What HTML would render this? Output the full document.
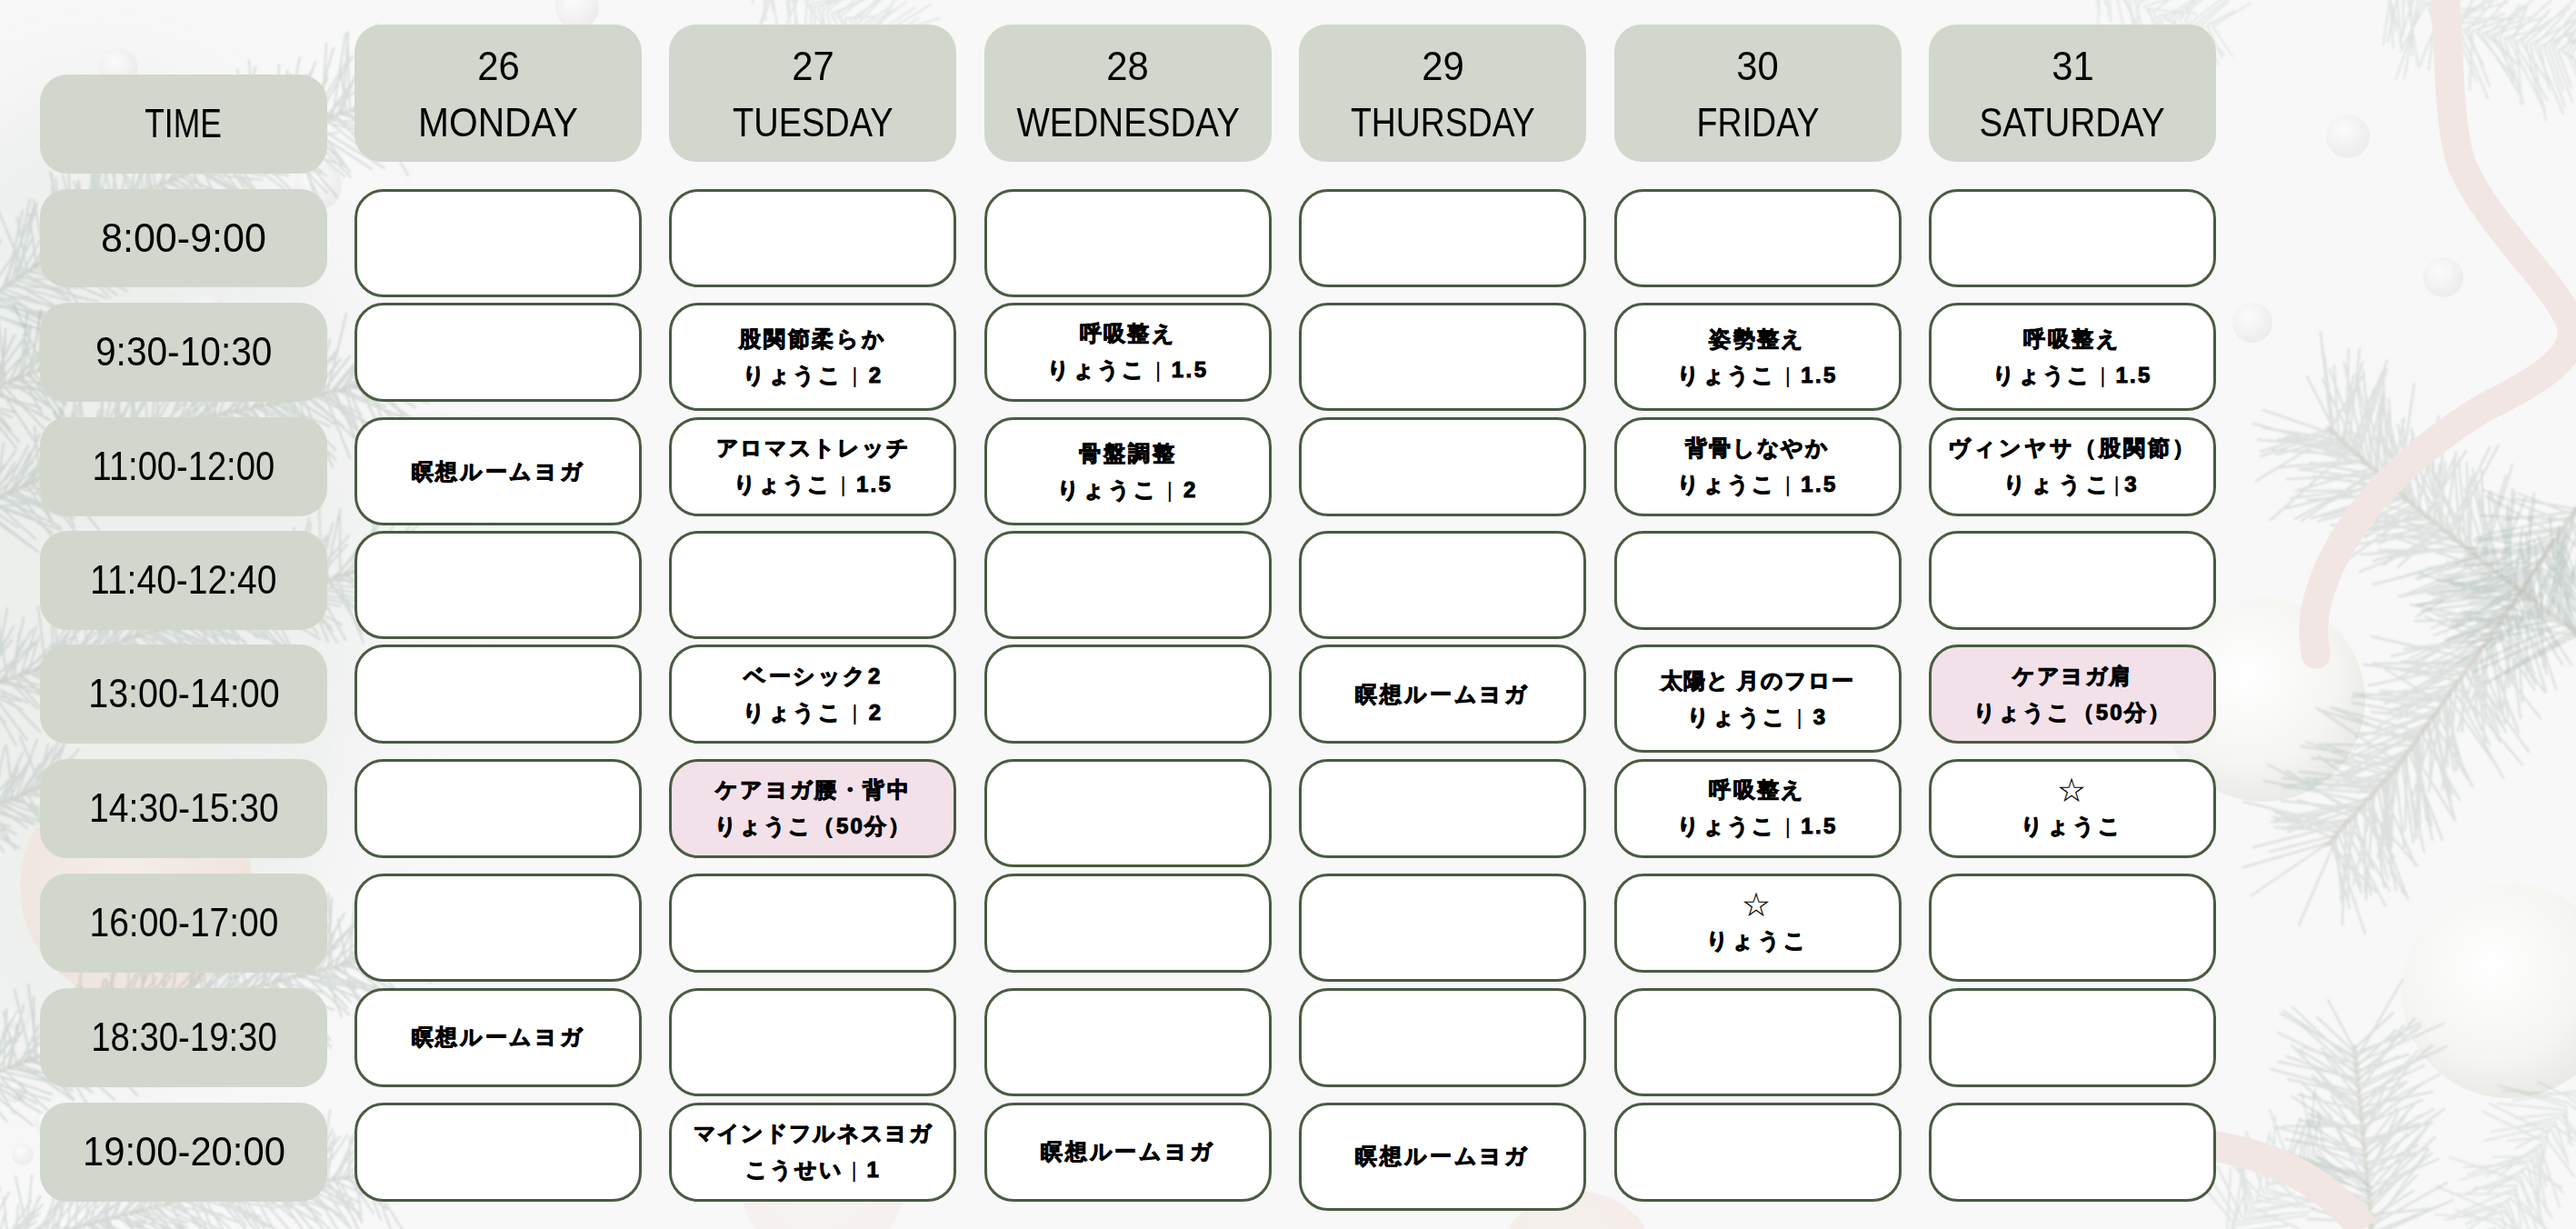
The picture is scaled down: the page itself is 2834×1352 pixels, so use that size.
<!DOCTYPE html>
<html lang="ja"><head><meta charset="utf-8"><title>schedule</title>
<style>
*{margin:0;padding:0;box-sizing:border-box}
html,body{width:2834px;height:1352px;overflow:hidden}
body{position:relative;background:#f6f7f6;font-family:"Liberation Sans",sans-serif;color:#000}
.bg{position:absolute;left:0;top:0;width:2834px;height:1352px}
.g{position:absolute;background:#d2d7cd;border-radius:30px}
.lt{position:absolute;left:0;width:100%;text-align:center;font-size:44px;line-height:44px;white-space:nowrap}
.lt span{display:inline-block}
.c{position:absolute;width:316px;background:#fff;border:3px solid #4a5b41;border-radius:32px;display:flex;flex-direction:column;align-items:center;justify-content:center}
.c.p{background:#f3e1e9}
.j{font-size:24px;font-weight:bold;letter-spacing:3px;line-height:40px;white-space:nowrap;-webkit-text-stroke:1px #000}
.j b{font-weight:normal;-webkit-text-stroke:0}
.j.st{font-weight:normal;-webkit-text-stroke:0;font-size:32px}
</style></head><body>
<svg class="bg" width="2834" height="1352" viewBox="0 0 2834 1352"><defs>
<radialGradient id="orn" cx="42%" cy="38%" r="62%"><stop offset="0" stop-color="#ffffff"/><stop offset="0.7" stop-color="#f5f5f2"/><stop offset="1" stop-color="#eaebe7"/></radialGradient>
<radialGradient id="pch" cx="45%" cy="40%" r="60%"><stop offset="0" stop-color="#f6ece6"/><stop offset="1" stop-color="#efdfd6"/></radialGradient>
<radialGradient id="prl" cx="40%" cy="35%" r="60%"><stop offset="0" stop-color="#ffffff"/><stop offset="1" stop-color="#e8e5e7"/></radialGradient>
<filter id="bl"><feGaussianBlur stdDeviation="0.8"/></filter>
<filter id="bl3" x="-50%" y="-50%" width="200%" height="200%"><feGaussianBlur stdDeviation="60"/></filter>
</defs><rect width="2834" height="1352" fill="#f8f8f8"/><ellipse cx="110" cy="640" rx="300" ry="560" fill="#e3e8e4" opacity="0.5" filter="url(#bl3)"/><circle cx="150" cy="975" r="128" fill="url(#pch)" opacity="0.7"/><circle cx="2760" cy="1090" r="118" fill="url(#orn)"/><circle cx="2490" cy="770" r="112" fill="url(#orn)"/><circle cx="905" cy="1300" r="90" fill="url(#pch)" opacity="0.3"/><circle cx="1735" cy="1400" r="90" fill="url(#pch)" opacity="0.5"/><circle cx="635" cy="8" r="24" fill="url(#prl)" opacity="0.6"/><circle cx="2583" cy="150" r="24" fill="url(#prl)" opacity="0.6"/><circle cx="2688" cy="305" r="22" fill="url(#prl)" opacity="0.6"/><circle cx="2478" cy="355" r="22" fill="url(#prl)" opacity="0.6"/><circle cx="2840" cy="30" r="20" fill="url(#prl)" opacity="0.6"/><circle cx="130" cy="75" r="22" fill="url(#prl)" opacity="0.6"/><circle cx="350" cy="205" r="26" fill="url(#prl)" opacity="0.6"/><circle cx="230" cy="345" r="20" fill="url(#prl)" opacity="0.6"/><circle cx="20" cy="1120" r="13" fill="url(#prl)" opacity="0.6"/><circle cx="45" cy="1160" r="12" fill="url(#prl)" opacity="0.6"/><circle cx="15" cy="1200" r="13" fill="url(#prl)" opacity="0.6"/><circle cx="50" cy="1235" r="12" fill="url(#prl)" opacity="0.6"/><circle cx="25" cy="1270" r="12" fill="url(#prl)" opacity="0.6"/><circle cx="110" cy="1345" r="13" fill="url(#prl)" opacity="0.6"/><circle cx="150" cy="1340" r="12" fill="url(#prl)" opacity="0.6"/><circle cx="190" cy="1348" r="13" fill="url(#prl)" opacity="0.6"/><g fill="none" stroke-linecap="round" filter="url(#bl)"><path d="M-30 340L-18 249M-30 340L43 362M-27 338L1 264M-27 338L32 362M-23 335L23 269M-23 335L69 346M-20 333L-22 276M-20 333L32 326M-17 331L-5 281M-17 331L68 353M-13 329L-6 257M-13 329L43 356M-10 326L-25 240M-10 326L45 351M-7 324L-3 240M-7 324L56 350M-3 322L-14 273M-3 322L66 339M0 319L-24 272M0 319L52 354M3 317L37 230M3 317L60 339M7 315L25 231M7 315L77 317M10 313L35 263M10 313L77 331M13 310L33 219M13 310L92 354M17 308L41 223M17 308L108 332M20 306L38 223M20 306L73 308M23 304L52 250M23 304L89 328M27 301L-2 231M27 301L76 329M30 299L19 239M30 299L121 312M33 297L82 221M33 297L84 317M37 294L77 249M37 294L117 328M40 292L32 235M40 292L97 311M43 290L57 213M43 290L100 308M47 288L74 223M47 288L111 270M50 285L37 220M50 285L97 349M53 283L48 227M53 283L138 250M57 281L61 230M57 281L132 316M60 278L85 231M60 278L140 320M63 276L57 191M63 276L128 324M67 274L57 206M67 274L121 327M70 272L61 196M70 272L147 288M73 269L55 189M73 269L145 294M77 267L92 215M77 267L150 291M80 265L75 183M80 265L165 298M83 262L86 199M83 262L138 282M87 260L69 193M87 260L152 306M90 258L116 176M90 258L132 311M93 256L87 200M93 256L172 296M97 253L101 191M97 253L159 252M100 251L122 176M100 251L186 270M103 249L81 200M103 249L155 252M107 246L100 183M107 246L159 266M110 244L98 158M110 244L162 238M113 242L106 164M113 242L189 296M117 240L97 171M117 240L186 223M120 237L101 178M120 237L191 257M123 235L128 168M123 235L161 274M127 233L113 179M127 233L213 263M130 231L148 143M130 231L178 282M133 228L114 148M133 228L197 281M137 226L184 145M137 226L197 287M140 224L177 143M140 224L210 221M143 221L153 150M143 221L196 222M147 219L122 159M147 219L199 242M150 217L163 130M150 217L204 264M153 215L120 165M153 215L234 234M157 212L151 125M157 212L221 231M160 210L167 151M160 210L195 275M164 208L166 134M164 208L207 236M167 207L154 140M167 207L216 260M171 205L160 132M171 205L244 261M175 204L199 154M175 204L249 255M178 202L189 144M178 202L216 244M182 201L167 144M182 201L243 222M186 199L210 150M186 199L248 237M189 197L214 128M189 197L253 223M193 196L196 137M193 196L249 244M197 194L194 106M197 194L277 226M201 193L186 130M201 193L268 259M204 191L186 133M204 191L249 222M208 189L199 104M208 189L288 198M212 188L255 120M212 188L235 238M215 186L242 119M215 186L261 213M219 185L248 116M219 185L267 215M223 183L257 102M223 183L243 234M226 182L282 137M226 182L282 226M230 180L245 104M230 180L317 193M234 178L276 107M234 178L289 194M237 177L237 87M237 177L292 247M241 175L247 99M241 175L304 234M245 174L298 109M245 174L285 229M248 172L253 91M248 172L291 226M252 171L240 106M252 171L316 186M256 169L267 109M256 169L290 225M259 167L269 94M259 167L322 215M263 166L281 73M263 166L346 175M267 164L289 117M267 164L321 173M271 163L318 105M271 163L326 214M274 161L261 76M274 161L357 174M278 159L323 124M278 159L347 182M282 158L274 66M282 158L351 191M285 156L307 80M285 156L359 193M289 155L301 95M289 155L372 146M293 153L337 82M293 153L380 183M296 152L349 106M296 152L342 192M300 150L342 79M300 150L360 212M304 149L307 71M304 149L352 169M308 147L316 78M308 147L354 189M312 146L330 63M312 146L371 217M315 145L314 90M315 145L350 215M319 144L347 68M319 144L379 194M323 142L319 81M323 142L350 228M327 141L360 88M327 141L373 171M331 140L335 86M331 140L386 195M335 138L360 85M335 138L409 186M339 137L384 63M339 137L378 182M343 136L367 53M343 136L423 185M346 135L388 62M346 135L385 189M350 133L392 100M350 133L420 149M354 132L359 47M354 132L434 135M358 131L407 64M358 131L402 166M362 129L398 74M362 129L433 154M366 128L380 38M366 128L415 168M370 127L410 44M370 127L414 176M374 125L400 63M374 125L445 150M377 124L383 37M377 124L452 164M381 123L374 72M381 123L442 168M385 122L382 35M385 122L469 139M389 120L431 48M389 120L445 175M393 119L450 64M393 119L475 137M397 118L426 57M397 118L460 168M401 116L429 39M401 116L438 174M405 115L414 27M405 115L449 193M408 114L406 40M408 114L449 170M412 113L431 31M412 113L443 161M416 111L451 58M416 111L459 158" stroke="#8ea39b" stroke-opacity="0.3" stroke-width="2.2"/><path d="M-30 340L160 210L300 150L420 110" stroke="#b8a896" stroke-opacity="0.18" stroke-width="4"/><path d="M-30 560L-5 489M-30 560L32 554M-26 558L17 496M-26 558L35 602M-23 557L4 512M-23 557L42 607M-19 555L21 510M-19 555L20 580M-15 553L36 509M-15 553L67 583M-11 552L16 509M-11 552L37 571M-8 550L-17 498M-8 550L39 593M-4 548L4 487M-4 548L83 562M-0 547L-9 486M-0 547L67 580M3 545L31 490M3 545L57 586M7 543L55 501M7 543L67 567M11 542L33 498M11 542L82 570M14 540L47 489M14 540L75 566M18 538L44 477M18 538L71 609M22 537L64 492M22 537L104 564M26 535L70 469M26 535L70 545M29 533L89 467M29 533L55 571M33 532L76 461M33 532L94 564M37 530L54 476M37 530L59 577M40 528L74 481M40 528L86 589M44 527L38 469M44 527L116 553M48 525L93 479M48 525L135 544M51 523L72 439M51 523L82 579M55 522L83 446M55 522L109 551M59 520L61 474M59 520L109 583M63 518L66 449M63 518L100 551M66 517L90 433M66 517L122 563M70 515L114 452M70 515L131 532M74 513L98 468M74 513L150 514M77 512L83 425M77 512L144 520M81 510L90 436M81 510L140 522M85 508L59 453M85 508L149 517M89 507L133 455M89 507L146 539M92 505L109 451M92 505L159 554M96 503L135 434M96 503L162 538M100 502L85 427M100 502L153 528M103 500L113 442M103 500L173 500M107 498L127 420M107 498L170 533M111 497L154 423M111 497L184 507M114 495L111 415M114 495L165 521M118 493L134 433M118 493L163 521M122 492L156 410M122 492L201 515M126 490L128 429M126 490L167 520M129 488L132 434M129 488L177 523M133 487L160 442M133 487L177 517M137 485L172 409M137 485L207 514M140 483L152 416M140 483L188 531M144 482L150 408M144 482L208 505M148 480L140 394M148 480L208 527M151 478L144 415M151 478L222 513M155 477L142 431M155 477L203 472M159 475L186 433M159 475L225 534M163 473L155 386M163 473L249 465M166 472L175 393M166 472L220 497M170 470L205 406M170 470L184 548M174 469L172 411M174 469L203 539M178 468L225 421M178 468L214 539M182 468L226 396M182 468L202 517M186 467L207 409M186 467L253 495M190 466L255 407M190 466L233 513M194 465L254 423M194 465L259 495M198 464L216 409M198 464L238 509M202 464L224 416M202 464L255 491M206 463L248 387M206 463L273 495M210 462L249 399M210 462L255 481M214 461L281 402M214 461L262 504M218 460L259 423M218 460L282 496M222 460L253 377M222 460L261 509M226 459L257 388M226 459L272 510M230 458L247 385M230 458L266 507M233 457L267 379M233 457L286 529M237 457L229 374M237 457L286 486M241 456L256 411M241 456L292 469M245 455L297 421M245 455L308 515M249 454L301 388M249 454L266 521M253 453L289 375M253 453L297 521M257 453L313 387M257 453L306 473M261 452L283 381M261 452L323 479M265 451L290 409M265 451L295 515M269 450L292 384M269 450L306 500M273 449L260 370M273 449L335 514M277 449L328 386M277 449L322 514M281 448L315 382M281 448L324 470M285 447L335 373M285 447L332 468M289 446L290 393M289 446L320 530M293 445L340 387M293 445L358 485M297 445L326 371M297 445L349 483M301 444L338 381M301 444L363 469M305 443L336 380M305 443L369 505M309 442L306 358M309 442L343 475M313 441L369 392M313 441L349 477M317 441L306 389M317 441L369 495M321 440L328 376M321 440L345 480M325 439L340 366M325 439L371 468M329 438L370 386M329 438L346 504M333 437L354 361M333 437L366 514M337 437L354 387M337 437L378 469M341 436L375 395M341 436L406 497M345 435L363 373M345 435L424 475M349 434L359 361M349 434L397 455M353 433L385 392M353 433L409 470M357 433L352 384M357 433L385 504M360 432L381 345M360 432L392 473M364 431L400 388M364 431L393 470M368 430L423 361M368 430L394 489M372 430L417 405M372 430L450 462M376 429L421 355M376 429L424 447M380 428L412 371M380 428L399 494M384 427L421 382M384 427L401 470M388 426L427 392M388 426L472 443M392 426L428 390M392 426L447 472M396 425L422 366M396 425L433 504M400 424L415 377M400 424L470 472M404 423L453 378M404 423L449 425M408 422L469 377M408 422L426 482M412 422L438 350M412 422L457 448M416 421L461 356M416 421L451 468" stroke="#8ea39b" stroke-opacity="0.32" stroke-width="2.2"/><path d="M-30 560L170 470L420 420" stroke="#b8a896" stroke-opacity="0.18" stroke-width="4"/><path d="M-30 760L13 704M-30 760L6 795M-26 759L11 696M-26 759L22 771M-22 757L15 689M-22 757L25 781M-19 756L39 706M-19 756L18 820M-15 755L-12 703M-15 755L30 814M-11 754L2 699M-11 754L30 773M-7 752L8 669M-7 752L44 805M-3 751L39 708M-3 751L60 760M1 750L36 692M1 750L60 769M4 749L26 705M4 749L71 766M8 747L-3 676M8 747L41 780M12 746L26 679M12 746L89 764M16 745L21 696M16 745L62 800M20 743L73 703M20 743L73 785M23 742L40 689M23 742L63 778M27 741L58 708M27 741L96 749M31 740L43 700M31 740L71 759M35 738L75 716M35 738L99 757M39 737L76 695M39 737L82 771M43 736L77 683M43 736L85 768M46 735L103 677M46 735L100 780M50 733L42 667M50 733L100 750M54 732L76 696M54 732L125 753M58 731L57 656M58 731L120 749M62 729L84 674M62 729L103 748M65 728L59 675M65 728L110 740M69 727L103 655M69 727L112 774M73 726L114 689M73 726L98 764M77 724L127 663M77 724L132 738M81 723L110 683M81 723L133 787M85 722L114 670M85 722L143 773M88 721L77 676M88 721L134 766M92 719L129 680M92 719L134 718M96 718L90 646M96 718L124 789M100 717L135 648M100 717L157 764M104 715L152 646M104 715L171 748M107 714L113 673M107 714L186 737M111 713L165 656M111 713L165 764M115 712L129 652M115 712L141 753M119 710L140 666M119 710L189 743M123 709L151 649M123 709L174 744M127 708L149 664M127 708L163 754M130 707L104 632M130 707L173 726M134 705L191 646M134 705L197 729M138 704L161 670M138 704L181 739M142 703L168 636M142 703L196 752M146 701L211 652M146 701L180 763M149 700L163 635M149 700L221 713M153 699L155 630M153 699L210 747M157 698L150 621M157 698L204 732M161 696L152 614M161 696L231 737M165 695L169 652M165 695L231 734M169 694L186 636M169 694L232 732M172 693L198 654M172 693L252 719M176 691L215 655M176 691L214 714M180 690L203 653M180 690L224 707M184 689L218 664M184 689L257 720M188 688L210 620M188 688L209 729M192 687L240 645M192 687L225 721M195 685L203 627M195 685L259 704M199 684L226 639M199 684L255 726M203 683L267 630M203 683L246 709M207 682L228 626M207 682L269 705M211 681L237 638M211 681L248 697M215 680L206 636M215 680L243 733M219 679L229 640M219 679L259 702M223 678L208 623M223 678L247 715M226 676L238 609M226 676L250 739M230 675L237 611M230 675L261 723M234 674L280 643M234 674L292 703M238 673L278 619M238 673L278 717M242 672L274 607M242 672L274 729M246 671L254 621M246 671L314 714M250 670L299 615M250 670L284 702M254 669L259 603M254 669L329 681M257 667L268 609M257 667L315 685M261 666L273 609M261 666L319 726M265 665L321 629M265 665L309 710M269 664L280 589M269 664L305 691M273 663L322 601M273 663L345 691M277 662L320 617M277 662L324 721M281 661L275 595M281 661L352 703M285 660L298 594M285 660L327 676M288 658L285 595M288 658L328 673M292 657L348 612M292 657L331 733M296 656L344 607M296 656L346 663M300 655L334 592M300 655L364 689M304 654L317 587M304 654L362 671M308 653L304 593M308 653L376 687M312 652L351 605M312 652L374 667M315 650L321 611M315 650L350 698M319 649L359 590M319 649L397 668M323 648L340 570M323 648L390 661M327 647L346 603M327 647L366 694M331 646L342 575M331 646L371 707M335 645L384 589M335 645L361 706M339 644L323 580M339 644L407 662M343 643L382 599M343 643L407 655M346 641L360 589M346 641L380 704M350 640L366 575M350 640L417 651M354 639L351 557M354 639L409 639M358 638L373 566M358 638L391 670M362 637L348 592M362 637L399 696M366 636L411 592M366 636L449 648M370 635L404 590M370 635L400 707M374 634L374 560M374 634L444 678M377 632L417 601M377 632L432 658M381 631L405 596M381 631L445 678M385 630L421 603M385 630L431 643M389 629L432 590M389 629L432 644M393 628L418 572M393 628L442 655M397 627L412 576M397 627L427 658M401 626L444 590M401 626L437 683M405 625L435 574M405 625L433 659M408 623L470 569M408 623L428 663M412 622L410 544M412 622L467 654M416 621L466 560M416 621L464 651" stroke="#8ea39b" stroke-opacity="0.3" stroke-width="2.2"/><path d="M-30 760L180 690L420 620" stroke="#b8a896" stroke-opacity="0.18" stroke-width="4"/><path d="M-30 1190L21 1136M-30 1190L7 1233M-26 1189L-18 1130M-26 1189L36 1238M-22 1187L19 1112M-22 1187L55 1210M-19 1186L-20 1116M-19 1186L45 1224M-15 1184L11 1143M-15 1184L40 1214M-11 1183L-27 1112M-11 1183L16 1225M-8 1181L6 1130M-8 1181L57 1204M-4 1180L25 1133M-4 1180L30 1216M0 1178L-13 1122M0 1178L49 1189M4 1177L7 1110M4 1177L52 1221M8 1175L26 1106M8 1175L63 1183M11 1174L19 1127M11 1174L79 1195M15 1172L81 1115M15 1172L80 1200M19 1171L4 1114M19 1171L82 1191M22 1170L43 1128M22 1170L81 1210M26 1168L66 1122M26 1168L78 1172M30 1167L66 1090M30 1167L101 1181M34 1165L16 1088M34 1165L98 1196M38 1164L37 1096M38 1164L81 1209M41 1162L31 1083M41 1162L102 1202M45 1161L90 1112M45 1161L93 1174M49 1159L81 1119M49 1159L115 1179M52 1158L82 1109M52 1158L100 1177M56 1156L85 1084M56 1156L109 1172M60 1155L73 1096M60 1155L96 1215M64 1154L99 1109M64 1154L126 1210M68 1152L130 1091M68 1152L145 1184M71 1151L119 1081M71 1151L94 1193M75 1149L70 1098M75 1149L115 1170M79 1148L109 1088M79 1148L158 1188M82 1146L125 1086M82 1146L135 1163M86 1145L89 1059M86 1145L130 1193M90 1143L118 1106M90 1143L164 1177M94 1142L115 1077M94 1142L151 1205M98 1140L141 1085M98 1140L151 1194M101 1139L90 1086M101 1139L165 1157M105 1138L125 1091M105 1138L161 1146M109 1136L100 1088M109 1136L137 1173M112 1135L128 1062M112 1135L152 1173M116 1133L125 1057M116 1133L191 1147M120 1132L149 1072M120 1132L171 1176M124 1130L117 1078M124 1130L197 1170M128 1129L172 1076M128 1129L201 1146M131 1127L153 1070M131 1127L186 1187M135 1126L168 1091M135 1126L218 1146M139 1124L166 1064M139 1124L190 1157M142 1123L141 1062M142 1123L172 1180M146 1121L198 1054M146 1121L227 1128M150 1120L195 1088M150 1120L191 1148M154 1119L162 1040M154 1119L216 1172M158 1118L155 1046M158 1118L230 1149M162 1117L188 1073M162 1117L201 1189M166 1116L205 1086M166 1116L237 1163M170 1115L215 1067M170 1115L240 1140M173 1114L163 1029M173 1114L234 1139M177 1113L184 1040M177 1113L222 1122M181 1112L220 1071M181 1112L258 1135M185 1111L198 1048M185 1111L239 1146M189 1110L235 1057M189 1110L221 1191M193 1109L250 1069M193 1109L234 1147M197 1108L234 1028M197 1108L269 1120M201 1107L230 1058M201 1107L278 1119M205 1106L218 1021M205 1106L279 1154M209 1105L268 1049M209 1105L269 1127M213 1104L251 1051M213 1104L296 1120M217 1103L255 1040M217 1103L236 1188M220 1102L254 1053M220 1102L264 1119M224 1101L215 1037M224 1101L289 1126M228 1100L220 1040M228 1100L280 1139M232 1099L271 1050M232 1099L281 1125M236 1098L243 1030M236 1098L287 1157M240 1097L293 1027M240 1097L264 1157M244 1096L287 1046M244 1096L285 1142M248 1095L296 1062M248 1095L307 1152M252 1094L255 1038M252 1094L294 1141M256 1093L267 1022M256 1093L286 1128M260 1092L293 1059M260 1092L307 1118M263 1091L256 1042M263 1091L298 1134M267 1090L305 1043M267 1090L314 1146M271 1089L260 1020M271 1089L314 1106M275 1088L325 1034M275 1088L323 1101M279 1087L305 1013M279 1087L305 1140M283 1086L346 1033M283 1086L324 1160M287 1084L312 1021M287 1084L321 1131M291 1083L305 1010M291 1083L367 1111M295 1082L319 999M295 1082L330 1143M299 1081L363 1020M299 1081L327 1118M303 1080L332 1042M303 1080L335 1153M307 1079L321 1019M307 1079L355 1092M310 1078L318 1017M310 1078L363 1144M314 1077L333 1008M314 1077L364 1153M318 1076L349 1029M318 1076L341 1147M322 1075L373 1040M322 1075L359 1108M326 1074L337 991M326 1074L392 1087M330 1073L361 1025M330 1073L395 1098M334 1072L392 1014M334 1072L384 1116M338 1071L393 1015M338 1071L421 1093M342 1070L379 1005M342 1070L413 1086M346 1069L357 1017M346 1069L382 1109M350 1068L363 1012M350 1068L386 1102M353 1067L370 1020M353 1067L411 1093M357 1066L420 1015M357 1066L376 1119M361 1065L365 988M361 1065L407 1108M365 1064L361 983M365 1064L414 1089M369 1063L400 995M369 1063L440 1114M373 1062L411 1028M373 1062L460 1075M377 1061L436 1021M377 1061L397 1107M381 1060L372 1011M381 1060L443 1095M385 1059L390 993M385 1059L438 1106M389 1058L398 1009M389 1058L466 1069M393 1057L430 1010M393 1057L458 1073M397 1056L406 992M397 1056L454 1076M400 1055L428 1015M400 1055L467 1077M404 1054L442 995M404 1054L475 1081M408 1053L450 1001M408 1053L437 1092M412 1052L448 986M412 1052L466 1075M416 1051L426 972M416 1051L463 1051" stroke="#8ea39b" stroke-opacity="0.33" stroke-width="2.2"/><path d="M-30 1190L150 1120L420 1050" stroke="#b8a896" stroke-opacity="0.18" stroke-width="4"/><path d="M-30 1380L10 1312M-30 1380L27 1418M-26 1379L-24 1338M-26 1379L13 1410M-22 1378L0 1308M-22 1378L18 1447M-18 1377L44 1335M-18 1377L38 1403M-14 1376L-26 1315M-14 1376L9 1423M-11 1375L40 1344M-11 1375L31 1434M-7 1374L6 1335M-7 1374L60 1396M-3 1373L36 1333M-3 1373L19 1417M1 1372L34 1321M1 1372L67 1400M5 1371L47 1325M5 1371L62 1404M9 1370L4 1317M9 1370L32 1415M13 1369L58 1340M13 1369L70 1401M17 1368L20 1325M17 1368L26 1407M21 1367L44 1316M21 1367L49 1424M25 1366L42 1319M25 1366L73 1372M28 1365L35 1293M28 1365L43 1404M32 1364L17 1294M32 1364L60 1413M36 1363L73 1309M36 1363L82 1384M40 1362L80 1306M40 1362L89 1395M44 1361L64 1306M44 1361L60 1407M48 1360L70 1310M48 1360L107 1380M52 1359L85 1317M52 1359L88 1409M56 1358L74 1280M56 1358L93 1397M60 1357L79 1299M60 1357L122 1383M64 1356L70 1298M64 1356L109 1393M67 1355L122 1296M67 1355L108 1412M71 1354L104 1302M71 1354L119 1388M75 1353L80 1273M75 1353L140 1386M79 1352L133 1306M79 1352L145 1385M83 1351L86 1308M83 1351L136 1382M87 1349L119 1297M87 1349L107 1402M91 1348L136 1319M91 1348L111 1385M95 1347L98 1295M95 1347L138 1372M99 1346L112 1303M99 1346L144 1372M103 1345L131 1306M103 1345L116 1389M106 1344L139 1293M106 1344L166 1382M110 1343L142 1310M110 1343L170 1384M114 1342L129 1288M114 1342L170 1381M118 1341L123 1289M118 1341L155 1403M122 1340L145 1296M122 1340L167 1346M126 1339L153 1269M126 1339L198 1368M130 1338L177 1286M130 1338L182 1384M134 1337L187 1282M134 1337L173 1358M138 1336L156 1273M138 1336L161 1380M142 1335L197 1287M142 1335L180 1355M145 1334L176 1297M145 1334L206 1350M149 1333L196 1297M149 1333L196 1357M153 1332L170 1264M153 1332L206 1345M157 1331L170 1284M157 1331L201 1370M161 1330L212 1281M161 1330L188 1381M165 1329L171 1254M165 1329L205 1369M169 1328L206 1272M169 1328L231 1374M173 1327L176 1268M173 1327L214 1370M177 1326L168 1286M177 1326L221 1349M181 1325L216 1279M181 1325L244 1336M184 1324L213 1277M184 1324L248 1356M188 1323L235 1283M188 1323L208 1370M192 1322L229 1253M192 1322L233 1358M196 1321L219 1255M196 1321L221 1352M200 1320L202 1259M200 1320L260 1344M204 1319L196 1264M204 1319L244 1342M208 1319L242 1295M208 1319L249 1388M212 1318L250 1273M212 1318L253 1351M216 1318L235 1278M216 1318L288 1339M220 1317L242 1263M220 1317L235 1358M224 1317L245 1243M224 1317L258 1374M228 1316L231 1263M228 1316L304 1329M232 1316L247 1266M232 1316L296 1350M236 1315L260 1260M236 1315L270 1352M240 1315L279 1274M240 1315L304 1353M244 1314L260 1257M244 1314L271 1349M248 1313L283 1280M248 1313L289 1363M252 1313L275 1280M252 1313L319 1329M256 1312L262 1271M256 1312L276 1348M260 1312L292 1269M260 1312L295 1369M264 1311L317 1276M264 1311L304 1372M268 1311L295 1276M268 1311L328 1319M272 1310L292 1275M272 1310L336 1327M276 1310L299 1268M276 1310L316 1377M280 1309L329 1248M280 1309L325 1361M284 1309L300 1267M284 1309L323 1340M288 1308L299 1251M288 1308L350 1345M292 1307L325 1257M292 1307L335 1319M296 1307L337 1273M296 1307L366 1332M300 1306L319 1271M300 1306L341 1364M304 1306L321 1255M304 1306L352 1362M308 1305L352 1257M308 1305L353 1337M312 1305L355 1284M312 1305L368 1357M316 1304L336 1255M316 1304L380 1340M320 1304L349 1242M320 1304L369 1333M324 1303L328 1241M324 1303L362 1364M328 1303L336 1224M328 1303L375 1325M332 1302L365 1272M332 1302L386 1351M336 1301L374 1250M336 1301L389 1325M340 1301L366 1242M340 1301L377 1362M344 1300L364 1257M344 1300L397 1336M348 1300L382 1249M348 1300L396 1323M352 1299L363 1221M352 1299L384 1348M356 1299L355 1228M356 1299L385 1327M360 1298L368 1247M360 1298L391 1343M364 1298L397 1257M364 1298L419 1321M368 1297L392 1247M368 1297L399 1363M372 1297L398 1225M372 1297L396 1341M376 1296L408 1244M376 1296L439 1311M380 1295L427 1245M380 1295L426 1330M384 1295L385 1251M384 1295L411 1335M388 1294L429 1247M388 1294L443 1309M392 1294L454 1252M392 1294L398 1345M396 1293L421 1237M396 1293L432 1322M400 1293L440 1269M400 1293L419 1342M404 1292L401 1244M404 1292L445 1356M408 1292L429 1217M408 1292L431 1356M412 1291L422 1222M412 1291L438 1322M416 1291L450 1221M416 1291L469 1295" stroke="#8ea39b" stroke-opacity="0.3" stroke-width="2.2"/><path d="M-30 1380L200 1320L420 1290" stroke="#b8a896" stroke-opacity="0.18" stroke-width="4"/><path d="M-40 440L-7 398M-40 440L18 454M-36 438L-23 390M-36 438L13 459M-32 437L-14 365M-32 437L1 473M-28 435L-24 387M-28 435L18 493M-25 434L-7 398M-25 434L21 486M-21 432L-4 374M-21 432L12 473M-17 431L29 369M-17 431L46 449M-13 429L16 369M-13 429L41 454M-9 428L34 382M-9 428L55 462M-5 426L-6 383M-5 426L38 427M-2 425L6 377M-2 425L38 485M2 423L6 362M2 423L49 472M6 422L-2 349M6 422L56 431M10 420L31 379M10 420L54 447M14 418L61 379M14 418L59 423M18 417L61 367M18 417L73 445M22 415L30 345M22 415L62 454M25 414L34 358M25 414L46 455M29 412L82 354M29 412L63 438M33 411L45 341M33 411L66 462M37 409L26 368M37 409L78 468M41 408L73 353M41 408L105 410M45 406L43 350M45 406L107 437M48 405L15 335M48 405L90 433M52 403L68 359M52 403L108 419M56 402L110 352M56 402L119 434" stroke="#8ea39b" stroke-opacity="0.35" stroke-width="2.2"/><path d="M-40 440L60 400" stroke="#b8a896" stroke-opacity="0.18" stroke-width="4"/><path d="M-40 900L-26 846M-40 900L22 933M-36 898L-22 853M-36 898L11 909M-32 897L-6 855M-32 897L6 915M-28 895L-0 852M-28 895L4 937M-25 894L19 849M-25 894L18 918M-21 892L-18 829M-21 892L17 934M-17 891L-7 840M-17 891L25 902M-13 889L-22 836M-13 889L38 907M-9 888L5 822M-9 888L13 930M-5 886L21 852M-5 886L30 911M-2 885L25 828M-2 885L54 908M2 883L35 832M2 883L37 906M6 882L20 843M6 882L46 897M10 880L35 832M10 880L75 895M14 878L7 819M14 878L61 899M18 877L41 813M18 877L73 918M22 875L44 840M22 875L51 911M25 874L59 821M25 874L81 879M29 872L69 825M29 872L60 925M33 871L58 824M33 871L96 890M37 869L74 813M37 869L72 901M41 868L53 819M41 868L101 892M45 866L22 810M45 866L80 887M48 865L64 816M48 865L90 891M52 863L87 824M52 863L93 907M56 862L74 809M56 862L81 895" stroke="#8ea39b" stroke-opacity="0.3" stroke-width="2.2"/><path d="M-40 900L60 860" stroke="#b8a896" stroke-opacity="0.18" stroke-width="4"/><path d="M830 -40L865 -78M830 -40L832 -10M834 -37L885 -60M834 -37L828 3M838 -34L871 -53M838 -34L843 22M842 -31L890 -64M842 -31L851 12M846 -28L890 -47M846 -28L855 29M851 -25L902 -47M851 -25L835 31M855 -22L890 -26M855 -22L838 27M859 -19L915 -25M859 -19L875 7M863 -16L910 -19M863 -16L868 19M867 -14L897 -36M867 -14L869 26M871 -11L906 -36M871 -11L880 43M875 -8L916 -26M875 -8L875 50M879 -5L906 -20M879 -5L865 27M884 -2L941 -17M884 -2L915 43M888 1L938 -16M888 1L885 39M892 4L931 -4M892 4L893 45M896 7L942 -4M896 7L898 61M900 10L925 -8M900 10L914 49M905 12L933 -14M905 12L912 69M910 13L938 -14M910 13L918 53M915 15L966 -7M915 15L937 65M920 17L964 -19M920 17L950 44M925 18L959 -10M925 18L933 71M930 20L965 18M930 20L935 69M935 22L979 -7M935 22L961 60M940 23L973 -8M940 23L968 66M945 25L983 -16M945 25L943 67M950 27L982 6M950 27L964 82M955 28L983 11M955 28L976 74M960 30L997 2M960 30L968 64M965 32L987 -5M965 32L975 72M970 33L1007 8M970 33L989 77M975 35L1024 5M975 35L985 93M980 37L1034 20M980 37L1010 88M985 38L1010 20M985 38L1007 87" stroke="#8ea39b" stroke-opacity="0.22" stroke-width="2.0"/><path d="M2300 -30L2339 -39M2300 -30L2310 15M2305 -27L2335 -29M2305 -27L2317 5M2311 -23L2352 -51M2311 -23L2308 29M2316 -20L2344 -33M2316 -20L2320 17M2321 -17L2357 -25M2321 -17L2322 24M2327 -13L2363 -20M2327 -13L2338 36M2332 -10L2363 -27M2332 -10L2351 27M2337 -7L2385 -2M2337 -7L2350 34M2343 -3L2383 -32M2343 -3L2348 39M2348 0L2383 -6M2348 0L2360 42M2353 3L2387 -14M2353 3L2349 53M2359 7L2393 -3M2359 7L2378 34M2364 10L2417 15M2364 10L2381 61M2369 13L2405 -15M2369 13L2383 40M2375 17L2407 13M2375 17L2388 45M2380 20L2415 -2M2380 20L2411 36M2386 21L2421 -3M2386 21L2419 44M2392 22L2425 -2M2392 22L2414 69M2398 23L2417 -7M2398 23L2429 63M2404 24L2422 -12M2404 24L2435 45M2410 25L2453 -8M2410 25L2437 59M2416 26L2450 0M2416 26L2447 60M2422 27L2451 2M2422 27L2441 71M2428 28L2458 12M2428 28L2445 64M2434 29L2475 4M2434 29L2456 62" stroke="#8ea39b" stroke-opacity="0.2" stroke-width="2.0"/><path d="M2840 700L2743 685M2840 700L2817 595M2837 698L2758 740M2837 698L2795 627M2834 696L2741 749M2834 696L2809 639M2831 694L2735 752M2831 694L2817 615M2829 691L2722 739M2829 691L2792 589M2826 689L2743 663M2826 689L2818 601M2823 687L2713 708M2823 687L2812 615M2820 685L2725 730M2820 685L2842 584M2817 683L2708 673M2817 683L2805 570M2814 681L2729 700M2814 681L2822 598M2811 679L2708 681M2811 679L2844 595M2809 676L2736 687M2809 676L2815 579M2806 674L2725 684M2806 674L2829 581M2803 672L2741 689M2803 672L2832 595M2800 670L2691 704M2800 670L2835 556M2797 668L2703 730M2797 668L2788 594M2794 666L2746 708M2794 666L2825 582M2791 664L2736 715M2791 664L2772 596M2789 661L2675 654M2789 661L2830 583M2786 659L2696 640M2786 659L2779 587M2783 657L2678 699M2783 657L2783 562M2780 655L2706 709M2780 655L2773 595M2777 653L2717 663M2777 653L2788 542M2774 651L2697 685M2774 651L2810 593M2771 649L2710 653M2771 649L2740 541M2769 646L2690 695M2769 646L2753 575M2766 644L2683 652M2766 644L2775 582M2763 642L2659 666M2763 642L2759 554M2760 640L2693 618M2760 640L2764 538M2757 638L2677 660M2757 638L2758 560M2754 636L2639 656M2754 636L2726 550M2752 633L2674 647M2752 633L2767 541M2749 631L2637 592M2749 631L2720 515M2746 629L2682 633M2746 629L2778 548M2743 627L2659 678M2743 627L2738 543M2741 624L2680 640M2741 624L2719 524M2738 622L2656 653M2738 622L2711 537M2735 620L2670 625M2735 620L2730 517M2732 618L2642 656M2732 618L2764 511M2729 616L2658 636M2729 616L2757 523M2727 613L2611 643M2727 613L2686 546M2724 611L2634 637M2724 611L2669 508M2721 609L2661 637M2721 609L2754 545M2718 607L2617 605M2718 607L2718 527M2716 604L2648 591M2716 604L2714 509M2713 602L2597 610M2713 602L2705 506M2710 600L2628 614M2710 600L2667 491M2707 598L2599 556M2707 598L2700 508M2704 596L2606 570M2704 596L2660 514M2702 593L2615 588M2702 593L2719 527M2699 591L2611 617M2699 591L2653 520M2696 589L2596 629M2696 589L2749 489M2693 587L2631 570M2693 587L2739 492M2691 584L2583 600M2691 584L2702 497M2688 582L2622 621M2688 582L2663 488M2685 580L2638 624M2685 580L2690 509M2682 578L2621 591M2682 578L2688 479M2679 576L2564 587M2679 576L2676 474M2677 573L2617 598M2677 573L2684 511M2674 571L2576 576M2674 571L2656 483M2671 569L2567 540M2671 569L2701 502M2668 567L2579 588M2668 567L2713 496M2666 564L2565 603M2666 564L2617 481M2663 562L2565 578M2663 562L2653 471M2660 560L2562 630M2660 560L2683 458M2657 558L2602 591M2657 558L2638 467M2655 555L2595 587M2655 555L2616 469M2652 553L2584 528M2652 553L2643 462M2649 551L2590 581M2649 551L2627 455M2647 548L2551 573M2647 548L2629 467M2644 546L2555 568M2644 546L2619 439M2642 543L2538 550M2642 543L2680 470M2639 541L2543 570M2639 541L2656 422M2636 539L2532 540M2636 539L2655 478M2634 536L2545 524M2634 536L2628 439M2631 534L2520 548M2631 534L2645 460M2628 532L2516 559M2628 532L2622 418M2626 529L2529 516M2626 529L2618 454M2623 527L2556 555M2623 527L2601 427M2621 524L2542 509M2621 524L2628 453M2618 522L2516 527M2618 522L2592 412M2615 520L2525 571M2615 520L2623 430M2613 517L2532 573M2613 517L2620 437M2610 515L2526 540M2610 515L2600 408M2607 513L2525 483M2607 513L2592 419M2605 510L2536 495M2605 510L2621 432M2602 508L2531 516M2602 508L2579 399M2599 506L2508 514M2599 506L2563 406M2597 503L2507 483M2597 503L2555 417M2594 501L2500 495M2594 501L2626 406M2592 498L2514 483M2592 498L2626 397M2589 496L2479 466M2589 496L2611 429M2586 494L2498 572M2586 494L2621 409M2584 491L2484 484M2584 491L2596 384M2581 489L2516 480M2581 489L2584 384M2578 487L2512 482M2578 487L2589 413M2576 484L2491 471M2576 484L2599 399M2573 482L2504 500M2573 482L2568 402M2571 479L2490 451M2571 479L2538 414M2568 477L2482 529M2568 477L2557 391M2565 475L2487 502M2565 475L2553 365M2563 472L2487 497M2563 472L2599 414" stroke="#93a69e" stroke-opacity="0.28" stroke-width="2.4"/><path d="M2840 700L2760 640L2660 560L2560 470" stroke="#b59f86" stroke-opacity="0.18" stroke-width="5"/><path d="M2834 560L2881 600M2834 560L2768 549M2832 563L2885 663M2832 563L2753 572M2830 566L2846 666M2830 566L2771 543M2828 569L2871 635M2828 569L2735 588M2826 572L2885 673M2826 572L2730 567M2824 575L2812 652M2824 575L2732 539M2822 578L2803 676M2822 578L2747 630M2820 580L2790 666M2820 580L2722 594M2818 583L2874 644M2818 583L2723 596M2816 586L2851 680M2816 586L2702 620M2814 589L2830 672M2814 589L2735 546M2812 592L2856 697M2812 592L2737 621M2810 595L2825 665M2810 595L2716 646M2809 598L2862 684M2809 598L2715 655M2807 601L2875 688M2807 601L2712 610M2805 604L2854 677M2805 604L2724 591M2803 607L2838 697M2803 607L2713 603M2801 610L2833 672M2801 610L2725 607M2799 612L2771 689M2799 612L2736 654M2797 615L2850 671M2797 615L2732 648M2795 618L2798 734M2795 618L2712 622M2793 621L2846 671M2793 621L2689 639M2791 624L2826 690M2791 624L2734 652M2789 627L2853 721M2789 627L2701 645M2787 630L2837 704M2787 630L2731 653M2785 633L2802 742M2785 633L2720 655M2783 636L2779 745M2783 636L2702 691M2781 639L2764 751M2781 639L2671 653M2779 642L2812 711M2779 642L2691 663M2777 645L2812 758M2777 645L2675 691M2775 648L2829 731M2775 648L2721 680M2773 650L2801 737M2773 650L2681 638M2771 653L2819 731M2771 653L2655 666M2769 656L2801 761M2769 656L2714 700M2767 659L2775 773M2767 659L2664 672M2765 662L2754 778M2765 662L2662 631M2764 665L2801 732M2764 665L2665 726M2762 668L2788 742M2762 668L2691 705M2760 671L2760 756M2760 671L2681 677M2758 674L2773 790M2758 674L2652 724M2756 677L2784 738M2756 677L2694 705M2754 680L2715 782M2754 680L2657 727M2752 682L2790 753M2752 682L2657 683M2750 685L2761 747M2750 685L2652 665M2748 688L2764 747M2748 688L2678 741M2746 691L2800 761M2746 691L2685 687M2744 694L2788 758M2744 694L2631 722M2742 697L2760 789M2742 697L2638 746M2740 700L2751 775M2740 700L2672 672M2738 703L2756 796M2738 703L2645 714M2736 706L2734 788M2736 706L2668 678M2734 709L2771 806M2734 709L2662 741M2732 711L2795 790M2732 711L2664 713M2730 714L2735 790M2730 714L2636 770M2728 717L2704 804M2728 717L2659 762M2726 720L2751 780M2726 720L2641 737M2724 723L2734 817M2724 723L2625 774M2722 726L2725 790M2722 726L2609 700M2720 729L2757 806M2720 729L2611 730M2718 731L2749 806M2718 731L2606 754M2716 734L2782 827M2716 734L2646 727M2713 737L2750 816M2713 737L2624 774M2711 740L2756 803M2711 740L2642 728M2709 743L2709 805M2709 743L2600 731M2707 746L2730 803M2707 746L2617 799M2705 749L2739 819M2705 749L2625 734M2703 751L2696 824M2703 751L2644 777M2701 754L2775 841M2701 754L2588 767M2699 757L2754 856M2699 757L2634 780M2697 760L2687 869M2697 760L2638 791M2695 763L2703 847M2695 763L2624 785M2693 766L2742 836M2693 766L2618 760M2691 769L2693 843M2691 769L2589 763M2689 771L2710 847M2689 771L2617 769M2687 774L2700 848M2687 774L2624 736M2685 777L2672 871M2685 777L2590 824M2683 780L2654 877M2683 780L2596 766M2681 783L2720 865M2681 783L2623 807M2679 786L2695 877M2679 786L2592 811M2677 789L2696 882M2677 789L2588 773M2675 791L2716 858M2675 791L2609 783M2673 794L2674 860M2673 794L2570 840M2671 797L2700 899M2671 797L2588 846M2669 800L2698 874M2669 800L2605 823M2667 803L2657 921M2667 803L2575 852M2664 806L2706 880M2664 806L2564 778M2662 809L2662 915M2662 809L2601 831M2660 811L2659 901M2660 811L2595 806M2658 814L2670 903M2658 814L2555 782M2656 817L2675 908M2656 817L2568 780M2654 820L2676 924M2654 820L2551 819M2652 823L2701 903M2652 823L2562 865M2650 826L2687 924M2650 826L2579 855M2648 829L2646 913M2648 829L2581 852M2646 831L2659 922M2646 831L2595 872M2644 834L2667 937M2644 834L2540 861M2642 837L2655 927M2642 837L2531 821M2640 840L2616 941M2640 840L2549 779M2638 843L2626 935M2638 843L2543 834M2635 845L2645 932M2635 845L2558 820M2633 848L2631 932M2633 848L2562 867M2631 851L2619 947M2631 851L2537 816M2628 853L2617 944M2628 853L2565 836M2626 856L2631 963M2626 856L2565 866M2624 859L2625 925M2624 859L2530 849M2621 861L2628 922M2621 861L2536 856M2619 864L2657 951M2619 864L2508 863M2616 866L2636 979M2616 866L2533 860M2614 869L2589 973M2614 869L2511 856M2612 872L2603 990M2612 872L2512 866M2609 874L2623 976M2609 874L2551 832M2607 877L2649 989M2607 877L2516 910M2605 880L2627 967M2605 880L2504 902M2602 882L2602 980M2602 882L2491 859M2600 885L2659 952M2600 885L2518 902M2598 888L2645 984M2598 888L2517 915M2595 890L2634 943M2595 890L2510 881M2593 893L2575 989M2593 893L2495 841M2591 896L2609 985M2591 896L2516 848M2588 898L2611 956M2588 898L2528 880M2586 901L2583 991M2586 901L2511 912M2584 904L2629 980M2584 904L2499 904M2581 906L2577 1017M2581 906L2479 932M2579 909L2624 996M2579 909L2468 882M2576 911L2598 975M2576 911L2501 899M2574 914L2529 1018M2574 914L2502 910M2572 917L2598 982M2572 917L2500 891M2569 919L2578 1001M2569 919L2497 937M2567 922L2602 1027M2567 922L2504 894M2565 925L2585 999M2565 925L2477 985M2562 927L2614 981M2562 927L2468 954" stroke="#93a69e" stroke-opacity="0.28" stroke-width="2.4"/><path d="M2834 560L2740 700L2640 840L2560 930" stroke="#b59f86" stroke-opacity="0.18" stroke-width="5"/><path d="M2620 -30L2699 -62M2620 -30L2638 29M2624 -27L2668 -50M2624 -27L2636 35M2628 -24L2703 -32M2628 -24L2633 53M2632 -21L2705 -51M2632 -21L2622 49M2636 -18L2695 -69M2636 -18L2642 55M2640 -15L2700 -36M2640 -15L2627 46M2644 -12L2686 -37M2644 -12L2644 38M2648 -9L2689 -16M2648 -9L2660 71M2652 -6L2705 -17M2652 -6L2654 61M2656 -3L2732 -25M2656 -3L2640 46M2660 0L2729 -7M2660 0L2645 87M2664 3L2705 4M2664 3L2636 87M2668 6L2732 -13M2668 6L2641 56M2672 9L2710 -23M2672 9L2690 56M2676 12L2723 -7M2676 12L2691 58M2680 15L2732 7M2680 15L2672 77M2684 18L2765 22M2684 18L2661 74M2688 21L2758 3M2688 21L2707 78M2692 24L2753 -6M2692 24L2688 95M2696 27L2777 18M2696 27L2695 71M2700 30L2739 -4M2700 30L2724 88M2705 31L2731 -22M2705 31L2737 108M2710 32L2755 15M2710 32L2732 71M2715 33L2763 -23M2715 33L2739 95M2720 34L2762 20M2720 34L2717 99M2725 36L2772 -16M2725 36L2761 80M2730 37L2784 19M2730 37L2773 105M2735 38L2777 6M2735 38L2772 73M2740 39L2801 18M2740 39L2771 72M2745 40L2804 -18M2745 40L2767 87M2750 41L2772 5M2750 41L2767 97M2755 42L2798 31M2755 42L2776 113M2760 43L2823 -15M2760 43L2800 122M2765 44L2780 7M2765 44L2803 111M2769 46L2827 9M2769 46L2774 116M2774 47L2805 11M2774 47L2802 89M2779 48L2832 0M2779 48L2793 108M2784 49L2852 11M2784 49L2801 132M2789 50L2821 16M2789 50L2820 125M2794 51L2865 22M2794 51L2805 100M2799 52L2836 11M2799 52L2822 118M2804 53L2845 15M2804 53L2820 99M2809 54L2863 -15M2809 54L2830 112M2814 56L2889 7M2814 56L2829 96M2819 57L2850 6M2819 57L2870 88M2824 58L2868 -4M2824 58L2844 102M2829 59L2867 1M2829 59L2847 101" stroke="#93a69e" stroke-opacity="0.24" stroke-width="2.2"/><path d="M2610 1360L2556 1332M2610 1360L2692 1323M2610 1356L2574 1309M2610 1356L2699 1320M2609 1352L2526 1281M2609 1352L2672 1264M2609 1348L2543 1330M2609 1348L2692 1301M2609 1344L2539 1341M2609 1344L2659 1293M2608 1340L2544 1314M2608 1340L2655 1310M2608 1336L2521 1288M2608 1336L2673 1330M2607 1331L2559 1305M2607 1331L2647 1288M2607 1327L2516 1268M2607 1327L2671 1238M2607 1323L2545 1305M2607 1323L2676 1268M2606 1319L2513 1290M2606 1319L2679 1251M2606 1315L2532 1274M2606 1315L2662 1283M2606 1311L2533 1284M2606 1311L2670 1240M2605 1307L2562 1225M2605 1307L2683 1275M2605 1303L2549 1273M2605 1303L2648 1247M2604 1299L2520 1272M2604 1299L2638 1223M2604 1295L2520 1270M2604 1295L2670 1263M2604 1291L2512 1274M2604 1291L2647 1226M2603 1287L2545 1204M2603 1287L2660 1260M2603 1283L2553 1264M2603 1283L2689 1220M2603 1279L2557 1252M2603 1279L2658 1268M2602 1274L2534 1233M2602 1274L2656 1215M2602 1270L2514 1253M2602 1270L2663 1227M2601 1266L2505 1240M2601 1266L2637 1219M2601 1262L2565 1206M2601 1262L2678 1220M2601 1258L2521 1206M2601 1258L2661 1236M2600 1254L2543 1227M2600 1254L2676 1235M2600 1250L2531 1190M2600 1250L2624 1195M2600 1246L2540 1225M2600 1246L2651 1171M2599 1242L2530 1232M2599 1242L2665 1192M2599 1238L2511 1239M2599 1238L2665 1210M2598 1234L2527 1154M2598 1234L2639 1197M2598 1230L2544 1183M2598 1230L2648 1190M2598 1226L2521 1150M2598 1226L2684 1182M2597 1222L2528 1204M2597 1222L2660 1156M2597 1218L2547 1190M2597 1218L2676 1201M2596 1214L2544 1186M2596 1214L2676 1150M2596 1210L2560 1164M2596 1210L2647 1190M2596 1206L2517 1187M2596 1206L2667 1172M2595 1202L2498 1176M2595 1202L2644 1128M2595 1198L2554 1153M2595 1198L2692 1151M2594 1194L2530 1155M2594 1194L2666 1162M2594 1190L2516 1162M2594 1190L2657 1120M2594 1186L2507 1168M2594 1186L2638 1162M2593 1182L2531 1127M2593 1182L2663 1129M2593 1178L2506 1136M2593 1178L2650 1160M2592 1174L2522 1108M2592 1174L2636 1133M2592 1170L2534 1152M2592 1170L2688 1126M2592 1166L2512 1112M2592 1166L2643 1078M2591 1162L2509 1115M2591 1162L2663 1125M2591 1158L2549 1119M2591 1158L2646 1138M2590 1154L2561 1100M2590 1154L2633 1114" stroke="#93a69e" stroke-opacity="0.28" stroke-width="2.4"/><path d="M2610 1360L2600 1250L2590 1150" stroke="#b59f86" stroke-opacity="0.18" stroke-width="4"/><path d="M2450 1360L2454 1286M2450 1360L2515 1361M2453 1356L2471 1309M2453 1356L2516 1348M2457 1352L2468 1280M2457 1352L2520 1368M2460 1348L2425 1307M2460 1348L2538 1337M2463 1344L2428 1291M2463 1344L2509 1337M2467 1340L2440 1284M2467 1340L2541 1333M2470 1336L2468 1263M2470 1336L2531 1324M2473 1332L2461 1273M2473 1332L2545 1321M2477 1328L2460 1274M2477 1328L2530 1352M2480 1324L2456 1264M2480 1324L2524 1312M2483 1320L2497 1246M2483 1320L2529 1328M2487 1316L2456 1281M2487 1316L2547 1329M2490 1312L2471 1255M2490 1312L2547 1320M2493 1308L2498 1264M2493 1308L2563 1327M2497 1304L2471 1245M2497 1304L2561 1277M2500 1300L2503 1228M2500 1300L2559 1313M2504 1297L2529 1253M2504 1297L2534 1328M2509 1294L2531 1230M2509 1294L2560 1295M2513 1291L2541 1230M2513 1291L2586 1303M2517 1289L2497 1251M2517 1289L2554 1317M2521 1286L2497 1221M2521 1286L2574 1310M2526 1283L2544 1235M2526 1283L2574 1301M2530 1280L2533 1240M2530 1280L2606 1304M2534 1277L2541 1235M2534 1277L2592 1294M2539 1274L2547 1198M2539 1274L2575 1296M2543 1271L2552 1227M2543 1271L2583 1291M2547 1269L2532 1202M2547 1269L2609 1313M2551 1266L2544 1225M2551 1266L2578 1301M2556 1263L2550 1222M2556 1263L2610 1307" stroke="#93a69e" stroke-opacity="0.24" stroke-width="2.2"/><path d="M2834 1200L2866 1236M2834 1200L2764 1211M2831 1204L2881 1250M2831 1204L2753 1200M2828 1208L2883 1258M2828 1208L2792 1190M2825 1213L2860 1241M2825 1213L2749 1194M2823 1217L2826 1258M2823 1217L2763 1199M2820 1221L2830 1260M2820 1221L2748 1214M2817 1225L2865 1281M2817 1225L2767 1230M2814 1229L2855 1269M2814 1229L2772 1239M2811 1234L2824 1274M2811 1234L2741 1245M2808 1238L2860 1271M2808 1238L2733 1255M2806 1242L2826 1279M2806 1242L2768 1263M2803 1246L2793 1299M2803 1246L2739 1214M2800 1251L2832 1294M2800 1251L2759 1255M2797 1255L2793 1316M2797 1255L2732 1223M2794 1259L2816 1328M2794 1259L2749 1294M2791 1263L2801 1305M2791 1263L2735 1294M2789 1267L2802 1333M2789 1267L2715 1292M2786 1272L2795 1337M2786 1272L2742 1273M2783 1276L2820 1312M2783 1276L2707 1298M2780 1280L2797 1346M2780 1280L2711 1284M2778 1285L2818 1306M2778 1285L2735 1313M2775 1289L2808 1340M2775 1289L2711 1314M2773 1294L2793 1361M2773 1294L2734 1308M2771 1299L2801 1353M2771 1299L2695 1273M2768 1304L2773 1348M2768 1304L2722 1307M2766 1308L2783 1356M2766 1308L2699 1337M2764 1313L2799 1349M2764 1313L2698 1314M2761 1318L2806 1356M2761 1318L2700 1365M2759 1322L2780 1383M2759 1322L2711 1335M2756 1327L2782 1391M2756 1327L2690 1342M2754 1332L2784 1364M2754 1332L2713 1346M2752 1336L2773 1410M2752 1336L2681 1305M2749 1341L2795 1372M2749 1341L2679 1336M2747 1346L2789 1383M2747 1346L2702 1331M2745 1351L2755 1400M2745 1351L2682 1373M2742 1355L2762 1402M2742 1355L2680 1360" stroke="#93a69e" stroke-opacity="0.24" stroke-width="2.2"/></g><path d="M2690 -10 C2695 80 2695 150 2710 185 C2740 250 2800 300 2826 350 C2845 390 2790 420 2730 450 C2650 500 2590 560 2560 630 C2540 680 2545 700 2548 720" fill="none" stroke="#f2e6e4" stroke-width="32" stroke-linecap="round"/><path d="M2430 1260 C2500 1270 2560 1300 2600 1352" fill="none" stroke="#f2e6e4" stroke-width="34"/></svg>
<div class="g" style="left:44px;top:82px;width:316px;height:108.8px"><div class="lt" style="top:32px"><span style="transform:scaleX(0.806)">TIME</span></div></div>
<div class="g" style="left:44px;top:207.50px;width:316px;height:108.8px"><div class="lt" style="top:32px"><span style="transform:scaleX(0.978)">8:00-9:00</span></div></div>
<div class="g" style="left:44px;top:333.00px;width:316px;height:108.8px"><div class="lt" style="top:32px"><span style="transform:scaleX(0.924)">9:30-10:30</span></div></div>
<div class="g" style="left:44px;top:459.00px;width:316px;height:108.8px"><div class="lt" style="top:32px"><span style="transform:scaleX(0.866)">11:00-12:00</span></div></div>
<div class="g" style="left:44px;top:583.80px;width:316px;height:108.8px"><div class="lt" style="top:32px"><span style="transform:scaleX(0.887)">11:40-12:40</span></div></div>
<div class="g" style="left:44px;top:709.40px;width:316px;height:108.8px"><div class="lt" style="top:32px"><span style="transform:scaleX(0.896)">13:00-14:00</span></div></div>
<div class="g" style="left:44px;top:835.00px;width:316px;height:108.8px"><div class="lt" style="top:32px"><span style="transform:scaleX(0.889)">14:30-15:30</span></div></div>
<div class="g" style="left:44px;top:960.90px;width:316px;height:108.8px"><div class="lt" style="top:32px"><span style="transform:scaleX(0.885)">16:00-17:00</span></div></div>
<div class="g" style="left:44px;top:1086.90px;width:316px;height:108.8px"><div class="lt" style="top:32px"><span style="transform:scaleX(0.871)">18:30-19:30</span></div></div>
<div class="g" style="left:44px;top:1212.75px;width:316px;height:108.8px"><div class="lt" style="top:32px"><span style="transform:scaleX(0.949)">19:00-20:00</span></div></div>
<div class="g" style="left:390px;top:27px;width:316px;height:151px"><div class="lt" style="top:23.5px"><span style="transform:scaleX(0.950)">26</span></div><div class="lt" style="top:85.5px"><span style="transform:scaleX(0.926)">MONDAY</span></div></div>
<div class="g" style="left:736.4px;top:27px;width:316px;height:151px"><div class="lt" style="top:23.5px"><span style="transform:scaleX(0.950)">27</span></div><div class="lt" style="top:85.5px"><span style="transform:scaleX(0.863)">TUESDAY</span></div></div>
<div class="g" style="left:1082.8px;top:27px;width:316px;height:151px"><div class="lt" style="top:23.5px"><span style="transform:scaleX(0.950)">28</span></div><div class="lt" style="top:85.5px"><span style="transform:scaleX(0.875)">WEDNESDAY</span></div></div>
<div class="g" style="left:1429.2px;top:27px;width:316px;height:151px"><div class="lt" style="top:23.5px"><span style="transform:scaleX(0.950)">29</span></div><div class="lt" style="top:85.5px"><span style="transform:scaleX(0.849)">THURSDAY</span></div></div>
<div class="g" style="left:1775.6px;top:27px;width:316px;height:151px"><div class="lt" style="top:23.5px"><span style="transform:scaleX(0.950)">30</span></div><div class="lt" style="top:85.5px"><span style="transform:scaleX(0.854)">FRIDAY</span></div></div>
<div class="g" style="left:2122px;top:27px;width:316px;height:151px"><div class="lt" style="top:23.5px"><span style="transform:scaleX(0.950)">31</span></div><div class="lt" style="top:85.5px"><span style="transform:scaleX(0.876)">SATURDAY</span></div></div>
<div class="c" style="left:390px;top:207.5px;height:119px"></div>
<div class="c" style="left:736.4px;top:207.5px;height:108.8px"></div>
<div class="c" style="left:1082.8px;top:207.5px;height:119px"></div>
<div class="c" style="left:1429.2px;top:207.5px;height:108.8px"></div>
<div class="c" style="left:1775.6px;top:207.5px;height:108.8px"></div>
<div class="c" style="left:2122px;top:207.5px;height:108.8px"></div>
<div class="c" style="left:390px;top:333px;height:108.8px"></div>
<div class="c" style="left:736.4px;top:333px;height:119px"><div class="j" id="t1_1_0" style="letter-spacing:2.80px">股関節柔らか</div><div class="j" id="t1_1_1" style="letter-spacing:2.72px">りょうこ <b>|</b> 2</div></div>
<div class="c" style="left:1082.8px;top:333px;height:108.8px"><div class="j" id="t1_2_0" style="letter-spacing:2.33px">呼吸整え</div><div class="j" id="t1_2_1" style="letter-spacing:2.44px">りょうこ <b>|</b> 1.5</div></div>
<div class="c" style="left:1429.2px;top:333px;height:119px"></div>
<div class="c" style="left:1775.6px;top:333px;height:119px"><div class="j" id="t1_4_0" style="letter-spacing:2.33px">姿勢整え</div><div class="j" id="t1_4_1" style="letter-spacing:2.33px">りょうこ <b>|</b> 1.5</div></div>
<div class="c" style="left:2122px;top:333px;height:119px"><div class="j" id="t1_5_0" style="letter-spacing:2.67px">呼吸整え</div><div class="j" id="t1_5_1" style="letter-spacing:2.22px">りょうこ <b>|</b> 1.5</div></div>
<div class="c" style="left:390px;top:459px;height:119px"><div class="j" id="t2_0_0" style="letter-spacing:2.66px">瞑想ルームヨガ</div></div>
<div class="c" style="left:736.4px;top:459px;height:108.8px"><div class="j" id="t2_1_0" style="letter-spacing:1.71px">アロマストレッチ</div><div class="j" id="t2_1_1" style="letter-spacing:2.22px">りょうこ <b>|</b> 1.5</div></div>
<div class="c" style="left:1082.8px;top:459px;height:119px"><div class="j" id="t2_2_0" style="letter-spacing:3.00px">骨盤調整</div><div class="j" id="t2_2_1" style="letter-spacing:2.71px">りょうこ <b>|</b> 2</div></div>
<div class="c" style="left:1429.2px;top:459px;height:108.8px"></div>
<div class="c" style="left:1775.6px;top:459px;height:108.8px"><div class="j" id="t2_4_0" style="letter-spacing:1.80px">背骨しなやか</div><div class="j" id="t2_4_1" style="letter-spacing:2.33px">りょうこ <b>|</b> 1.5</div></div>
<div class="c" style="left:2122px;top:459px;height:108.8px"><div class="j" id="t2_5_0" style="letter-spacing:2.89px">ヴィンヤサ（股関節）</div><div class="j" id="t2_5_1" style="letter-spacing:5.40px">りょうこ<b>|</b>3</div></div>
<div class="c" style="left:390px;top:583.8px;height:119px"></div>
<div class="c" style="left:736.4px;top:583.8px;height:119px"></div>
<div class="c" style="left:1082.8px;top:583.8px;height:119px"></div>
<div class="c" style="left:1429.2px;top:583.8px;height:119px"></div>
<div class="c" style="left:1775.6px;top:583.8px;height:108.8px"></div>
<div class="c" style="left:2122px;top:583.8px;height:108.8px"></div>
<div class="c" style="left:390px;top:709.4px;height:108.8px"></div>
<div class="c" style="left:736.4px;top:709.4px;height:108.8px"><div class="j" id="t4_1_0" style="letter-spacing:2.60px">ベーシック2</div><div class="j" id="t4_1_1" style="letter-spacing:2.72px">りょうこ <b>|</b> 2</div></div>
<div class="c" style="left:1082.8px;top:709.4px;height:108.8px"></div>
<div class="c" style="left:1429.2px;top:709.4px;height:108.8px"><div class="j" id="t4_3_0" style="letter-spacing:2.83px">瞑想ルームヨガ</div></div>
<div class="c" style="left:1775.6px;top:709.4px;height:119px"><div class="j" id="t4_4_0" style="letter-spacing:1.25px">太陽と 月のフロー</div><div class="j" id="t4_4_1" style="letter-spacing:2.71px">りょうこ <b>|</b> 3</div></div>
<div class="c p" style="left:2122px;top:709.4px;height:108.8px"><div class="j" id="t4_5_0" style="letter-spacing:1.50px">ケアヨガ肩</div><div class="j" id="t4_5_1" style="letter-spacing:2.13px">りょうこ（50分）</div></div>
<div class="c" style="left:390px;top:835px;height:108.8px"></div>
<div class="c p" style="left:736.4px;top:835px;height:108.8px"><div class="j" id="t5_1_0" style="letter-spacing:2.43px">ケアヨガ腰・背中</div><div class="j" id="t5_1_1" style="letter-spacing:2.12px">りょうこ（50分）</div></div>
<div class="c" style="left:1082.8px;top:835px;height:119px"></div>
<div class="c" style="left:1429.2px;top:835px;height:108.8px"></div>
<div class="c" style="left:1775.6px;top:835px;height:108.8px"><div class="j" id="t5_4_0" style="letter-spacing:2.32px">呼吸整え</div><div class="j" id="t5_4_1" style="letter-spacing:2.33px">りょうこ <b>|</b> 1.5</div></div>
<div class="c" style="left:2122px;top:835px;height:108.8px"><div class="j st" id="t5_5_0" style="letter-spacing:3.00px">☆</div><div class="j" id="t5_5_1" style="letter-spacing:3.33px">りょうこ</div></div>
<div class="c" style="left:390px;top:960.9px;height:119px"></div>
<div class="c" style="left:736.4px;top:960.9px;height:108.8px"></div>
<div class="c" style="left:1082.8px;top:960.9px;height:108.8px"></div>
<div class="c" style="left:1429.2px;top:960.9px;height:119px"></div>
<div class="c" style="left:1775.6px;top:960.9px;height:108.8px"><div class="j st" id="t6_4_0" style="letter-spacing:3.00px">☆</div><div class="j" id="t6_4_1" style="letter-spacing:3.33px">りょうこ</div></div>
<div class="c" style="left:2122px;top:960.9px;height:119px"></div>
<div class="c" style="left:390px;top:1086.9px;height:108.8px"><div class="j" id="t7_0_0" style="letter-spacing:2.66px">瞑想ルームヨガ</div></div>
<div class="c" style="left:736.4px;top:1086.9px;height:119px"></div>
<div class="c" style="left:1082.8px;top:1086.9px;height:119px"></div>
<div class="c" style="left:1429.2px;top:1086.9px;height:108.8px"></div>
<div class="c" style="left:1775.6px;top:1086.9px;height:119px"></div>
<div class="c" style="left:2122px;top:1086.9px;height:108.8px"></div>
<div class="c" style="left:390px;top:1212.75px;height:108.8px"></div>
<div class="c" style="left:736.4px;top:1212.75px;height:108.8px"><div class="j" id="t8_1_0" style="letter-spacing:1.33px">マインドフルネスヨガ</div><div class="j" id="t8_1_1" style="letter-spacing:2.00px">こうせい <b>|</b> 1</div></div>
<div class="c" style="left:1082.8px;top:1212.75px;height:108.8px"><div class="j" id="t8_2_0" style="letter-spacing:2.83px">瞑想ルームヨガ</div></div>
<div class="c" style="left:1429.2px;top:1212.75px;height:119px"><div class="j" id="t8_3_0" style="letter-spacing:2.83px">瞑想ルームヨガ</div></div>
<div class="c" style="left:1775.6px;top:1212.75px;height:108.8px"></div>
<div class="c" style="left:2122px;top:1212.75px;height:108.8px"></div>
</body></html>
